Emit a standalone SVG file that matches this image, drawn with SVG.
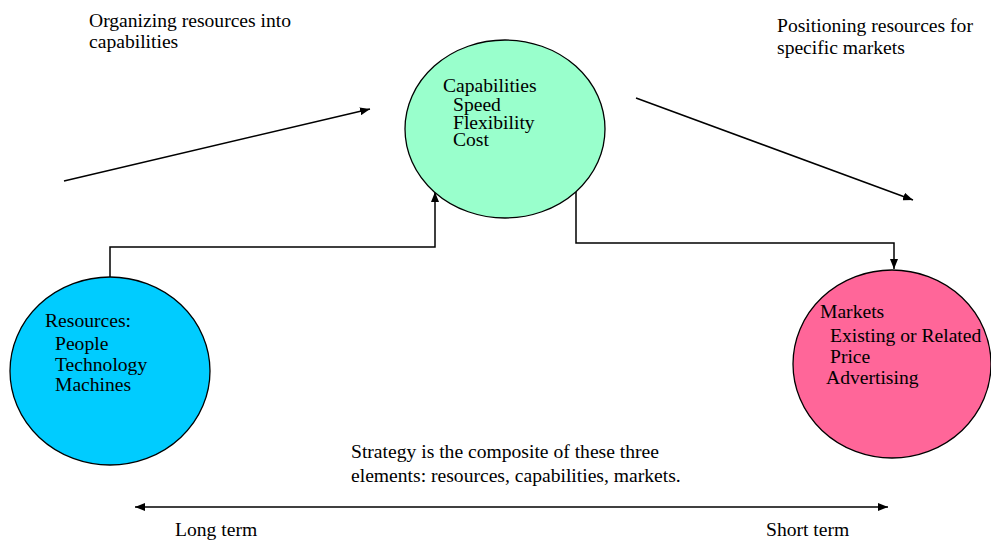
<svg xmlns="http://www.w3.org/2000/svg" width="991" height="546" viewBox="0 0 991 546">
  <style>
    .txt { font-family: "Liberation Serif", "Times New Roman", serif; font-size: 19.6px; fill: #000; }
    .node { stroke: #000; stroke-width: 1.3; }
    .conn { fill: none; stroke: #000; stroke-width: 1.5; }
  </style>
  <defs>
    <marker id="arrow" viewBox="0 0 10 8" refX="10" refY="4" markerWidth="10" markerHeight="8" markerUnits="userSpaceOnUse" orient="auto-start-reverse">
      <path d="M0,0 L10,4 L0,8 Z" fill="#000"/>
    </marker>
  </defs>

  <rect width="991" height="546" fill="#fff"/>

  <!-- captions -->
  <g id="caption-organizing">
    <text class="txt" x="89" y="27">Organizing resources into</text>
    <text class="txt" x="89" y="48">capabilities</text>
  </g>
  <g id="caption-positioning">
    <text class="txt" x="777" y="32">Positioning resources for</text>
    <text class="txt" x="777" y="54">specific markets</text>
  </g>

  <!-- connectors -->
  <g id="connectors">
    <line class="conn" x1="64" y1="181" x2="370" y2="109" marker-end="url(#arrow)"/>
    <line class="conn" x1="636" y1="98" x2="913" y2="200" marker-end="url(#arrow)"/>
    <polyline class="conn" points="110,277 110,247 435,247 435,192" marker-end="url(#arrow)"/>
    <polyline class="conn" points="576,190 576,243 894,243 894,269" marker-end="url(#arrow)"/>
    <line class="conn" x1="135" y1="507" x2="888" y2="507" marker-start="url(#arrow)" marker-end="url(#arrow)"/>
  </g>

  <!-- nodes -->
  <g id="capabilities">
    <ellipse class="node" cx="505" cy="129" rx="100" ry="89" fill="#99FFCC"/>
    <text class="txt" x="443" y="92">Capabilities</text>
    <text class="txt" x="453" y="111">Speed</text>
    <text class="txt" x="453" y="129">Flexibility</text>
    <text class="txt" x="453" y="146">Cost</text>
  </g>
  <g id="resources">
    <ellipse class="node" cx="110" cy="371" rx="100" ry="94" fill="#00CCFF"/>
    <text class="txt" x="45" y="327">Resources:</text>
    <text class="txt" x="55" y="350">People</text>
    <text class="txt" x="55" y="371">Technology</text>
    <text class="txt" x="55" y="391">Machines</text>
  </g>
  <g id="markets">
    <ellipse class="node" cx="892" cy="364" rx="99" ry="94" fill="#FF6699"/>
    <text class="txt" x="820" y="318">Markets</text>
    <text class="txt" x="830" y="342">Existing or Related</text>
    <text class="txt" x="830" y="363">Price</text>
    <text class="txt" x="826" y="384">Advertising</text>
  </g>

  <!-- footnote and time scale -->
  <g id="strategy-note">
    <text class="txt" x="351" y="458">Strategy is the composite of these three</text>
    <text class="txt" x="351" y="482">elements: resources, capabilities, markets.</text>
  </g>
  <g id="time-labels">
    <text class="txt" x="175" y="536">Long term</text>
    <text class="txt" x="766" y="536">Short term</text>
  </g>
</svg>
